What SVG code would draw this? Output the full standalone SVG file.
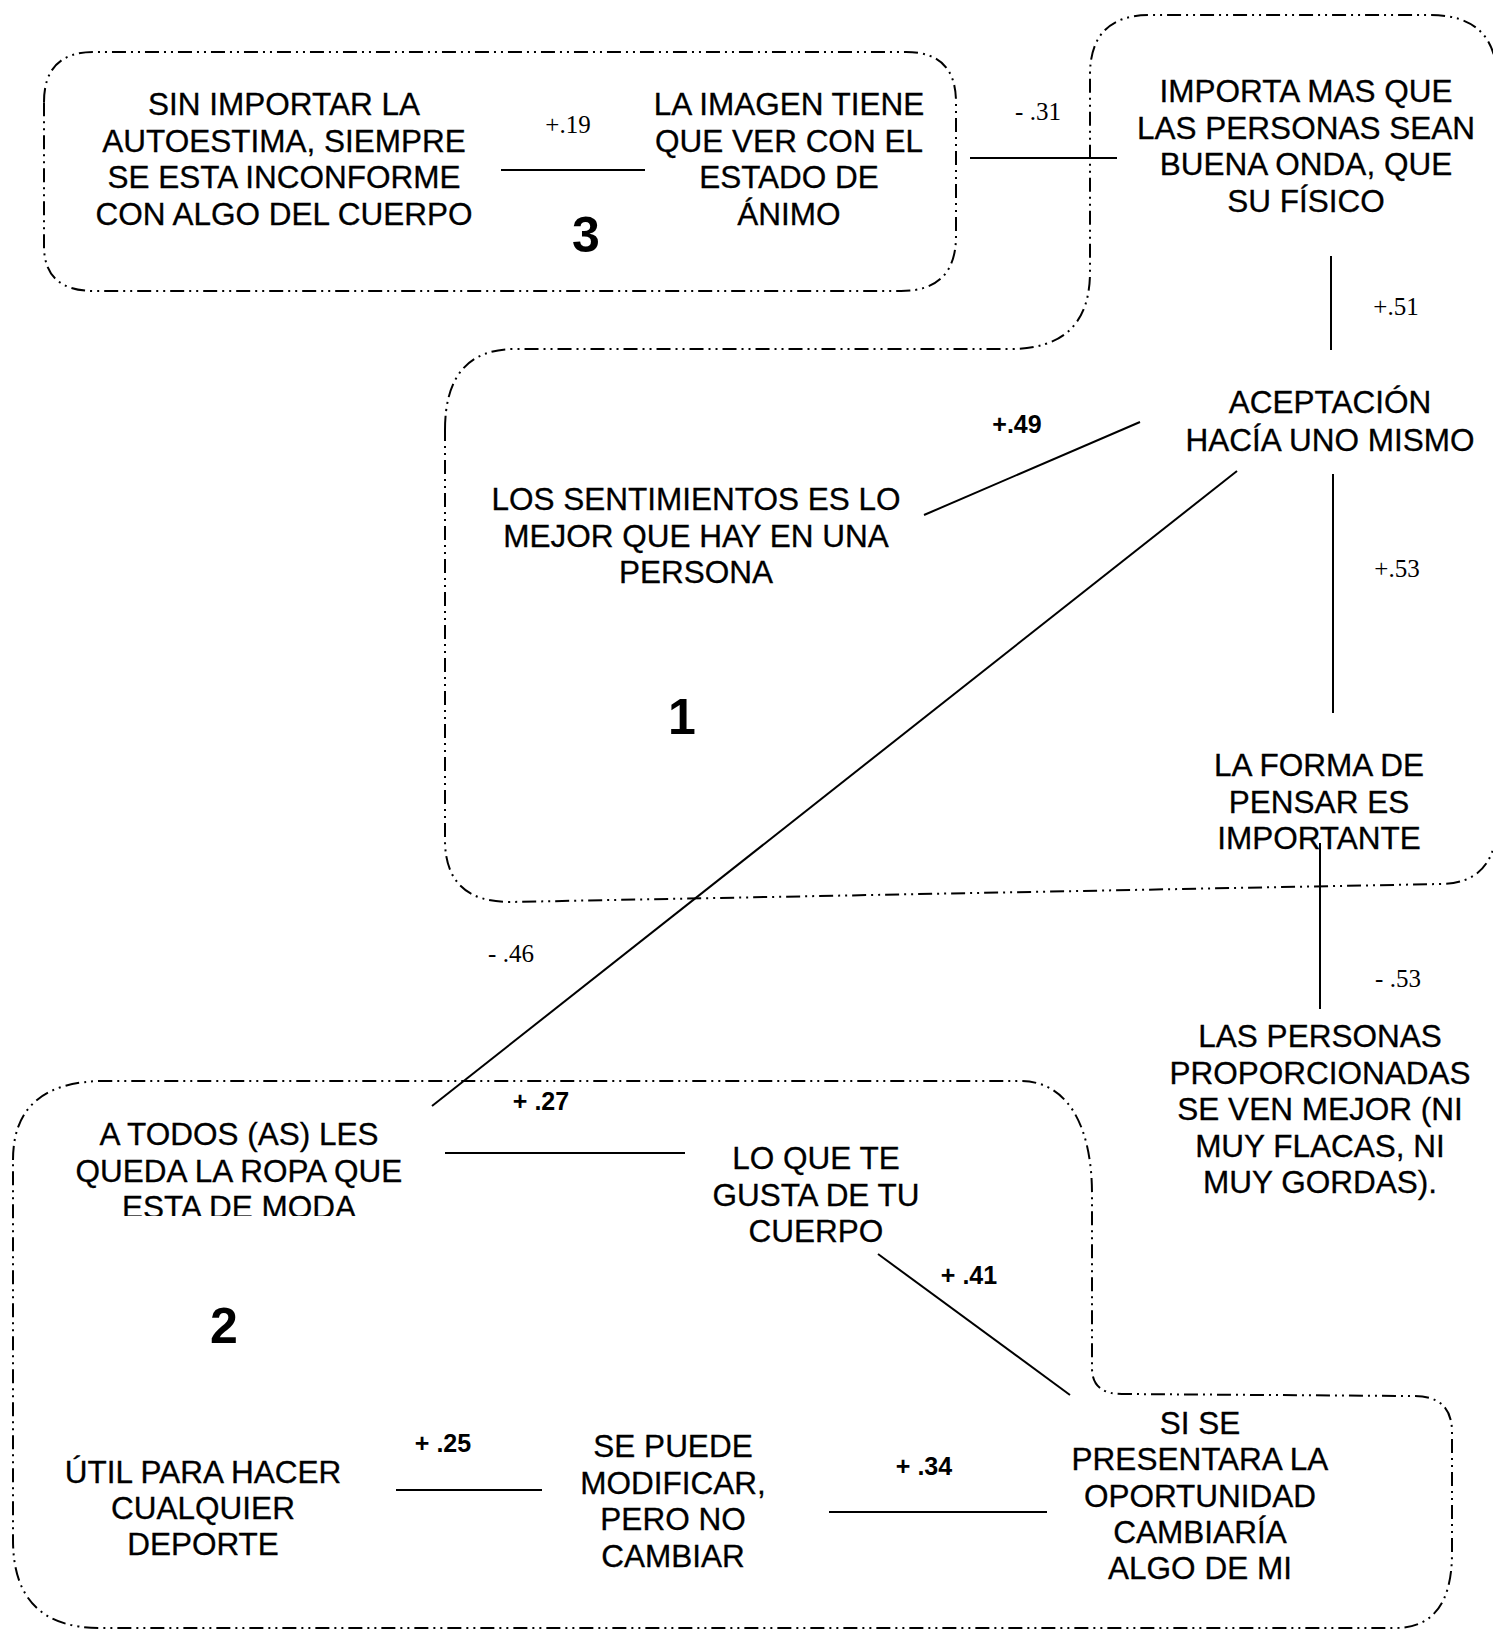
<svg xmlns="http://www.w3.org/2000/svg" width="1493" height="1632" viewBox="0 0 1493 1632">
<style>
.bg{fill:#ffffff}
.region{fill:none;stroke:#000;stroke-width:2;stroke-dasharray:14 5 2 5 2 5}
.conn{stroke:#000;stroke-width:2;fill:none}
.t{font-family:"Liberation Sans",Arial,sans-serif;font-size:31.5px;fill:#000;text-anchor:middle;stroke:#000;stroke-width:0.3}
.num{font-family:"Liberation Sans",Arial,sans-serif;font-size:50px;font-weight:bold;fill:#000;text-anchor:middle}
.ls{font-family:"Liberation Serif","Times New Roman",serif;font-size:25px;fill:#000;text-anchor:middle}
.lb{font-family:"Liberation Sans",Arial,sans-serif;font-size:25px;font-weight:bold;fill:#000;text-anchor:middle}
</style>
<defs>
<clipPath id="clipModa"><rect x="0" y="1100" width="600" height="116"/></clipPath>
</defs>
<rect class="bg" x="0" y="0" width="1493" height="1632"/>

<g id="regions">
<path id="region3" class="region" d="M 44 102 Q 44 52 94 52 L 906 52 Q 956 52 956 102 L 956 236 Q 956 291 901 291 L 94 291 Q 44 291 44 246 Z"/>
<path id="region1" class="region" d="M 445 430 Q 445 349 515 349 L 1010 349 Q 1090 349 1090 272 L 1090 75 Q 1090 15 1150 15 L 1430 15 Q 1497 15 1497 80 L 1497 820 Q 1497 884 1440 884 L 510 902 Q 445 902 445 840 Z"/>
<path id="region2" class="region" d="M 13 1160 Q 13 1081 105 1081 L 1020 1081 C 1070 1081 1092 1130 1092 1194 L 1092 1368 Q 1092 1394 1122 1394 L 1414 1396 Q 1452 1396 1452 1432 L 1452 1553 Q 1452 1628 1395 1628 L 100 1628 Q 13 1628 13 1540 Z"/>
</g>

<g id="connectors">
<line class="conn" x1="501" y1="170" x2="645" y2="170"/>
<line class="conn" x1="970" y1="158" x2="1117" y2="158"/>
<line class="conn" x1="1331" y1="256" x2="1331" y2="350"/>
<line class="conn" x1="924" y1="515" x2="1140" y2="422"/>
<line class="conn" x1="1237" y1="471" x2="432" y2="1106"/>
<line class="conn" x1="1333" y1="474" x2="1333" y2="713"/>
<line class="conn" x1="1320" y1="843" x2="1320" y2="1009"/>
<line class="conn" x1="445" y1="1153" x2="685" y2="1153"/>
<line class="conn" x1="878" y1="1254" x2="1070" y2="1395"/>
<line class="conn" x1="396" y1="1490" x2="542" y2="1490"/>
<line class="conn" x1="829" y1="1512" x2="1047" y2="1512"/>
</g>

<g id="labels">
<text class="ls" x="568" y="133">+.19</text>
<text class="ls" x="1038" y="120">- .31</text>
<text class="ls" x="1396" y="315">+.51</text>
<text class="lb" x="1017" y="433">+.49</text>
<text class="ls" x="1397" y="577">+.53</text>
<text class="ls" x="1398" y="987">- .53</text>
<text class="ls" x="511" y="962">- .46</text>
<text class="lb" x="541" y="1110">+ .27</text>
<text class="lb" x="969" y="1284">+ .41</text>
<text class="lb" x="443" y="1452">+ .25</text>
<text class="lb" x="924" y="1475">+ .34</text>
</g>

<g id="group-numbers">
<text class="num" x="586" y="252">3</text>
<text class="num" x="682" y="734">1</text>
<text class="num" x="224" y="1343">2</text>
</g>

<g id="node-sin-importar">
<text class="t" x="284" y="115"><tspan x="284">SIN IMPORTAR LA</tspan><tspan x="284" dy="36.5">AUTOESTIMA, SIEMPRE</tspan><tspan x="284" dy="36.5">SE ESTA INCONFORME</tspan><tspan x="284" dy="36.5">CON ALGO DEL CUERPO</tspan></text>
</g>
<g id="node-imagen">
<text class="t" x="789" y="115"><tspan x="789">LA IMAGEN TIENE</tspan><tspan x="789" dy="36.5">QUE VER CON EL</tspan><tspan x="789" dy="36.5">ESTADO DE</tspan><tspan x="789" dy="36.5">ÁNIMO</tspan></text>
</g>
<g id="node-importa">
<text class="t" x="1306" y="102"><tspan x="1306">IMPORTA MAS QUE</tspan><tspan x="1306" dy="36.5">LAS PERSONAS SEAN</tspan><tspan x="1306" dy="36.5">BUENA ONDA, QUE</tspan><tspan x="1306" dy="36.5">SU FÍSICO</tspan></text>
</g>
<g id="node-aceptacion">
<text class="t" x="1330" y="413"><tspan x="1330">ACEPTACIÓN</tspan><tspan x="1330" dy="38">HACÍA UNO MISMO</tspan></text>
</g>
<g id="node-sentimientos">
<text class="t" x="696" y="510"><tspan x="696">LOS SENTIMIENTOS ES LO</tspan><tspan x="696" dy="36.5">MEJOR QUE HAY EN UNA</tspan><tspan x="696" dy="36.5">PERSONA</tspan></text>
</g>
<g id="node-forma">
<text class="t" x="1319" y="776"><tspan x="1319">LA FORMA DE</tspan><tspan x="1319" dy="36.5">PENSAR ES</tspan><tspan x="1319" dy="36.5">IMPORTANTE</tspan></text>
</g>
<g id="node-proporcionadas">
<text class="t" x="1320" y="1047"><tspan x="1320">LAS PERSONAS</tspan><tspan x="1320" dy="36.5">PROPORCIONADAS</tspan><tspan x="1320" dy="36.5">SE VEN MEJOR (NI</tspan><tspan x="1320" dy="36.5">MUY FLACAS, NI</tspan><tspan x="1320" dy="36.5">MUY GORDAS).</tspan></text>
</g>
<g id="node-a-todos" clip-path="url(#clipModa)">
<text class="t" x="239" y="1145"><tspan x="239">A TODOS (AS) LES</tspan><tspan x="239" dy="36.5">QUEDA LA ROPA QUE</tspan><tspan x="239" dy="36.5">ESTA DE MODA</tspan></text>
</g>
<g id="node-lo-que-te">
<text class="t" x="816" y="1169"><tspan x="816">LO QUE TE</tspan><tspan x="816" dy="36.5">GUSTA DE TU</tspan><tspan x="816" dy="36.5">CUERPO</tspan></text>
</g>
<g id="node-util">
<text class="t" x="203" y="1483"><tspan x="203">ÚTIL PARA HACER</tspan><tspan x="203" dy="36">CUALQUIER</tspan><tspan x="203" dy="36">DEPORTE</tspan></text>
</g>
<g id="node-se-puede">
<text class="t" x="673" y="1457"><tspan x="673">SE PUEDE</tspan><tspan x="673" dy="36.5">MODIFICAR,</tspan><tspan x="673" dy="36.5">PERO NO</tspan><tspan x="673" dy="36.5">CAMBIAR</tspan></text>
</g>
<g id="node-si-se">
<text class="t" x="1200" y="1434"><tspan x="1200">SI SE</tspan><tspan x="1200" dy="36.3">PRESENTARA LA</tspan><tspan x="1200" dy="36.3">OPORTUNIDAD</tspan><tspan x="1200" dy="36.3">CAMBIARÍA</tspan><tspan x="1200" dy="36.3">ALGO DE MI</tspan></text>
</g>
</svg>
